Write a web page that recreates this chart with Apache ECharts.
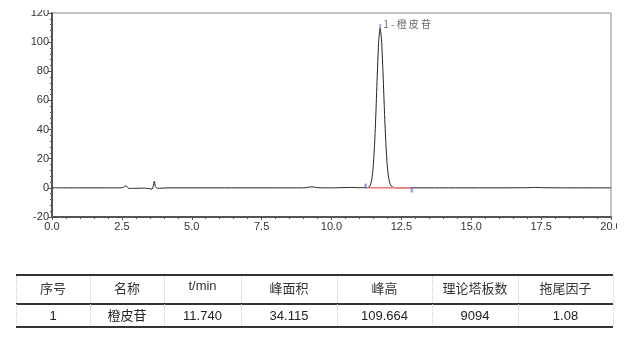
<!DOCTYPE html>
<html>
<head>
<meta charset="utf-8">
<script src="https://cdn.jsdelivr.net/npm/echarts@6/dist/echarts.min.js"></script>
<style>html,body{margin:0;padding:0;background:#fff;}#c{width:629px;height:341px;}</style>
</head>
<body>
<div id="c"></div>
<script>
// chromatogram signal (time in min, signal in mAU)
var times = [0, 1.0, 2.0, 2.4, 2.55, 2.62, 2.68, 2.75, 2.85, 3.0, 3.3, 3.5, 3.58, 3.62, 3.66, 3.70, 3.76, 4.2, 6.0, 8.0, 9.0, 9.3, 9.5, 10.0, 10.7, 11.0, 11.2, 11.29, 11.34, 11.39, 11.44, 11.49, 11.54, 11.59, 11.64, 11.69, 11.74, 11.79, 11.84, 11.89, 11.94, 11.99, 12.04, 12.09, 12.14, 12.2, 12.3, 12.5, 14.0, 16.0, 17.0, 17.3, 17.6, 18.5, 20.0];
var signal = [0, 0, 0, 0, 0.3, 1.3, 1.0, -0.5, -0.4, -0.3, -0.2, -0.6, -0.9, 1.0, 4.5, 1.0, -0.3, 0, 0, 0, 0, 0.7, 0.1, 0, 0.3, 0.1, 0.2, 0.3, 0.6, 1.9, 5.6, 13.9, 29.2, 52.1, 78.8, 101.0, 109.664, 101.5, 80.5, 55.0, 32.5, 16.5, 7.5, 3.0, 1.2, 0.4, 0.1, 0, 0, 0, 0.1, 0.3, 0.1, 0, 0];
// integration baseline (start, end)
var baseTimes = [11.22, 12.87];
var baseValues = [0, 0];
var startMark = [11.22, 1.2];
var endMark = [12.87, -1.5];
var apexMark = [11.74, 111];
var peakLabel = '1 - 橙 皮 苷';
var yTicks = {min: -20, max: 120, interval: 20};
var xTicks = {min: 0, max: 20, interval: 2.5};
// results table
var tableHeaders = ['序号', '名称', 't/min', '峰面积', '峰高', '理论塔板数', '拖尾因子'];
var tableRow = ['1', '橙皮苷', '11.740', '34.115', '109.664', '9094', '1.08'];

// layout
var colEdges = [16, 90, 164, 241, 337, 432, 518, 613];
var tTop = 275, tMid = 304, tBot = 327;

var lineData = times.map(function (t, i) { return [t, signal[i]]; });
var baseData = baseTimes.map(function (t, i) { return [t, baseValues[i]]; });

var graphics = [];
// white crop strips (reference image is cropped at top and right)
graphics.push({type: 'rect', left: 0, top: 0, shape: {width: 50, height: 10}, style: {fill: '#fff'}, z: 100});
graphics.push({type: 'rect', left: 617, top: 219, shape: {width: 12, height: 20}, style: {fill: '#fff'}, z: 100});
// horizontal rules
[tTop, tMid, tBot].forEach(function (y) {
  graphics.push({type: 'line', shape: {x1: colEdges[0], y1: y, x2: colEdges[colEdges.length - 1], y2: y}, style: {stroke: '#333', lineWidth: 2}});
});
// vertical dotted separators
colEdges.forEach(function (x) {
  graphics.push({type: 'line', shape: {x1: x + 0.5, y1: tTop + 1, x2: x + 0.5, y2: tBot - 1}, style: {stroke: '#c8c8c8', lineWidth: 1, lineDash: [1, 1]}});
});
for (var i = 0; i < tableHeaders.length; i++) {
  var cx = (colEdges[i] + colEdges[i + 1]) / 2;
  graphics.push({type: 'text', x: cx, y: (i === 2 ? 286 : 289), style: {text: tableHeaders[i], fill: '#333', font: '13px "Liberation Sans", "Noto Sans CJK SC", sans-serif', textAlign: 'center', textVerticalAlign: 'middle'}});
  graphics.push({type: 'text', x: cx, y: 316, style: {text: tableRow[i], fill: '#222', font: '13px "Liberation Sans", "Noto Sans CJK SC", sans-serif', textAlign: 'center', textVerticalAlign: 'middle'}});
}

var chart = echarts.init(document.getElementById('c'), null, {renderer: 'canvas'});
var axisLabelStyle = {color: '#333', fontSize: 11, fontFamily: '"Liberation Sans", Arial, sans-serif'};
chart.setOption({
  animation: false,
  backgroundColor: '#fff',
  grid: {left: 52, right: 18, top: 13, bottom: 124, show: true, borderColor: '#888', borderWidth: 1, containLabel: false},
  xAxis: {
    type: 'value', min: xTicks.min, max: xTicks.max, interval: xTicks.interval,
    axisLine: {show: true, onZero: false, lineStyle: {color: '#555', width: 2}},
    axisTick: {show: true, length: 3, lineStyle: {color: '#555'}},
    minorTick: {show: true, splitNumber: 5, length: 2, lineStyle: {color: '#555'}},
    splitLine: {show: false},
    axisLabel: Object.assign({margin: 4, formatter: function (v) { return v.toFixed(1); }}, axisLabelStyle)
  },
  yAxis: {
    type: 'value', min: yTicks.min, max: yTicks.max, interval: yTicks.interval,
    axisLine: {show: true, onZero: false, lineStyle: {color: '#555', width: 2}},
    axisTick: {show: true, length: 4, lineStyle: {color: '#555'}},
    minorTick: {show: true, splitNumber: 5, length: 2, lineStyle: {color: '#555'}},
    splitLine: {show: false},
    axisLabel: Object.assign({margin: 3}, axisLabelStyle)
  },
  series: [
    {type: 'line', data: lineData, symbol: 'none', smooth: 0.2, lineStyle: {color: '#222', width: 1}, z: 3},
    {type: 'line', data: baseData, symbol: 'none', lineStyle: {color: '#f07878', width: 1.5}, z: 4},
    {type: 'scatter', data: [startMark, endMark], symbol: 'rect', symbolSize: [2, 5], itemStyle: {color: '#6f6fe8'}, z: 5},
    {type: 'scatter', data: [apexMark], symbol: 'rect', symbolSize: [2, 4], itemStyle: {color: '#8c8cf0'}, z: 5,
     label: {show: true, position: 'right', distance: 2, offset: [0, -2], formatter: peakLabel, color: '#444', fontSize: 10, fontFamily: '"Noto Sans CJK SC", "Liberation Serif", serif'}}
  ],
  graphic: graphics
});
</script>
</body>
</html>
